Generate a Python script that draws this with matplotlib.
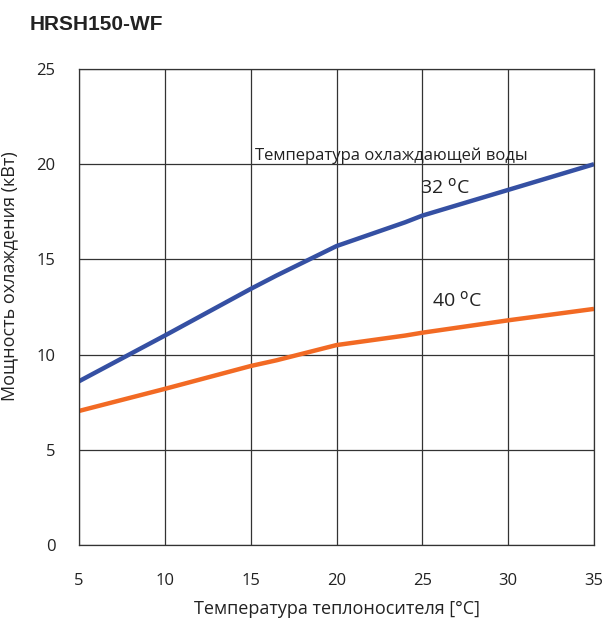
import matplotlib.pyplot as plt

plt.rcParams['font.family'] = ['Open Sans', 'DejaVu Sans']

x_temp = [5, 10, 15, 16.5, 20, 24, 25, 30, 35]
cap_32 = [8.6, 11.0, 13.45, 14.15, 15.7, 16.95, 17.3, 18.65, 20.0]
cap_40 = [7.04, 8.2, 9.4, 9.7, 10.5, 11.0, 11.15, 11.8, 12.4]

xticks = [5, 10, 15, 20, 25, 30, 35]
yticks = [0, 5, 10, 15, 20, 25]

fig = plt.figure(figsize=(6.08, 6.26), dpi=100)
ax = fig.add_axes([79/608, 1 - 545/626, (594-79)/608, (545-69)/626])

ax.plot(x_temp, cap_32, color='#3550a3', lw=3.2, solid_capstyle='butt')
ax.plot(x_temp, cap_40, color='#f26a24', lw=3.2, solid_capstyle='butt')

ax.set_xlim(5, 35)
ax.set_ylim(0, 25)
ax.set_xticks(xticks)
ax.set_yticks(yticks)
ax.grid(True, color='#333333', lw=0.9)
ax.tick_params(length=0, labelsize=12, colors='#222222')
ax.tick_params(axis='x', pad=20)
ax.tick_params(axis='y', pad=17)
for s in ax.spines.values():
    s.set_color('#333333')
    s.set_linewidth(0.9)

ax.set_xlabel('Температура теплоносителя [°C]', fontsize=13, color='#222222', labelpad=8)
ax.set_ylabel('Мощность охлаждения (кВт)', fontsize=13, color='#222222')
ax.yaxis.set_label_coords(-0.118, 0.565)

ax.text(15.25, 20.2, 'Температура охлаждающей воды', fontsize=12, color='#222222')
ax.text(24.86, 18.45, '32 $^{\\rm o}$C', fontsize=14, color='#222222')
ax.text(25.56, 12.5, '40 $^{\\rm o}$C', fontsize=14, color='#222222')

fig.text(30/608, 1 - 25/626, 'HRSH150-WF', fontsize=15, fontweight='bold',
         family='Liberation Sans', color='#222222', va='center')

fig.savefig('out.png', dpi=100)
